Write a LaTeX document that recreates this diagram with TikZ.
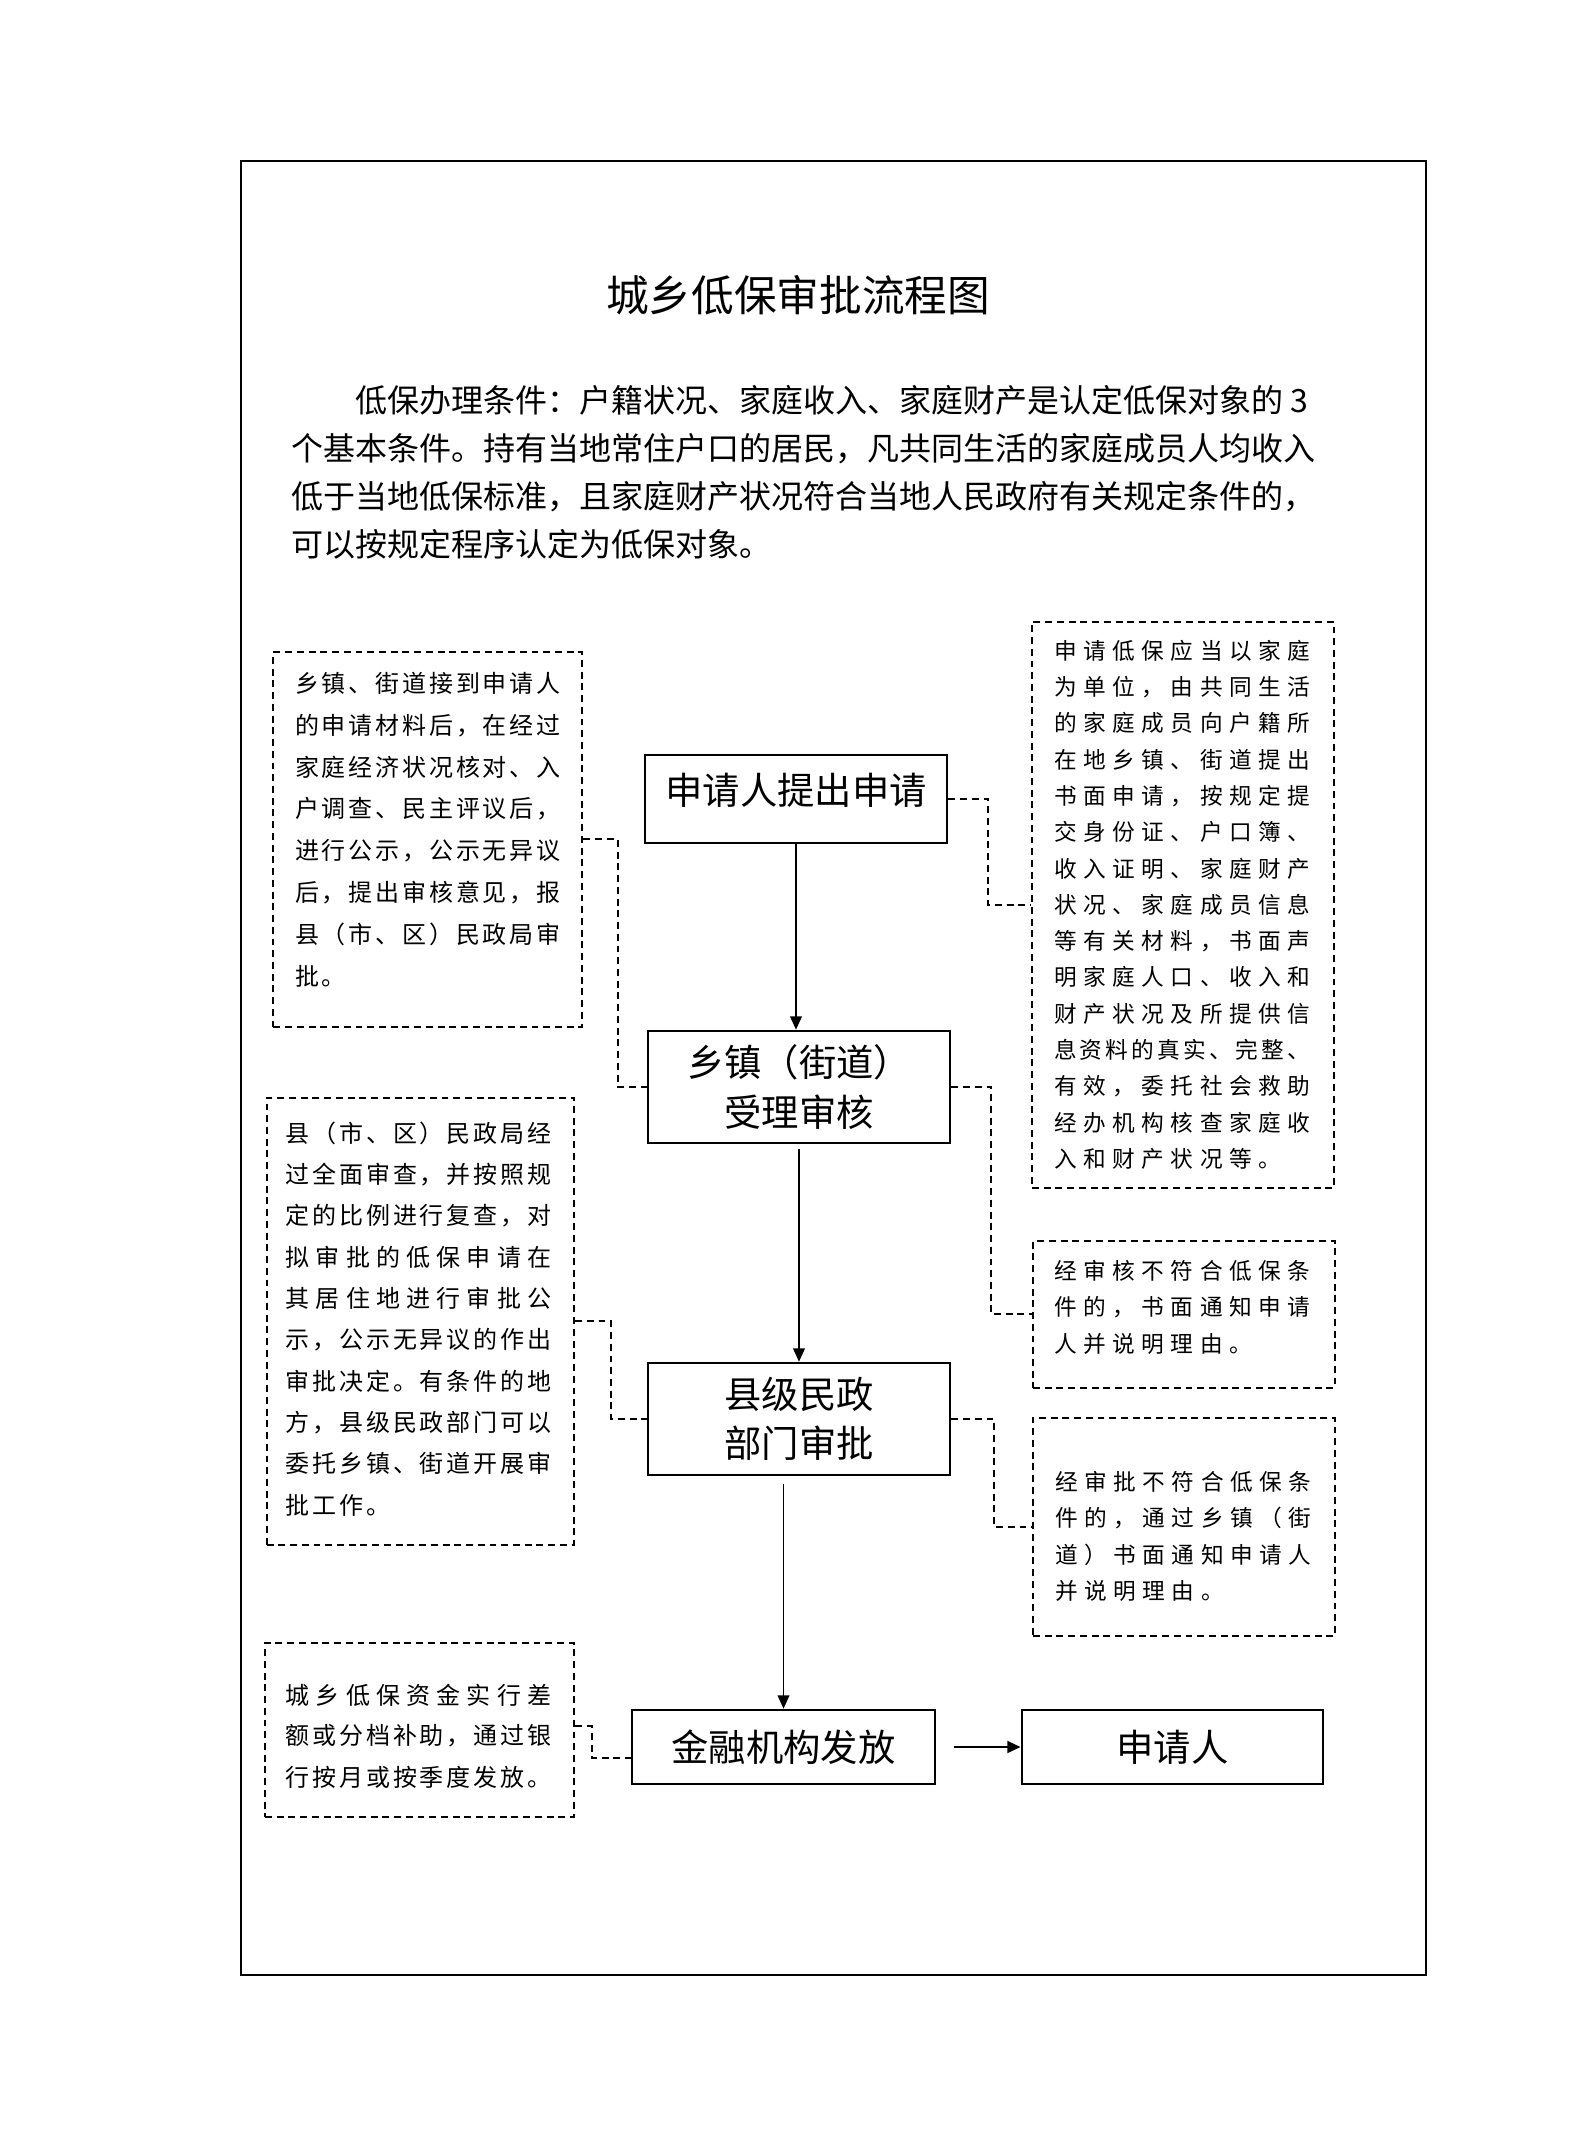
\documentclass[tikz,border=0pt]{standalone}
\usepackage{fontspec}
\setmainfont{Noto Sans CJK SC}
\usetikzlibrary{arrows.meta}
\newlength\gp
\newlength\sw
\makeatletter
\def\spr#1{\hbox to \sw{\spr@a#1\relax}}
\def\spr@a#1{#1\spr@b}
\def\spr@b#1{\ifx\relax#1\else\hfil#1\expandafter\spr@b\fi}
\def\grd#1{\hbox{\grd@a#1\relax}}
\def\grd@a#1{\ifx\relax#1\else\makebox[\gp][l]{#1}\expandafter\grd@a\fi}
\def\sprx#1{\expandafter\spr\expandafter{#1}}
\makeatother
\tikzset{
  ln/.style={anchor=west, inner sep=0pt, outer sep=0pt},
  Ltxt/.style={ln, font=\fontsize{9pt}{10pt}\selectfont\setlength\gp{10.07pt}\setlength\sw{99.6pt}},
  Rtxt/.style={ln, font=\fontsize{8.5pt}{10pt}\selectfont\setlength\gp{10.96pt}\setlength\sw{96.2pt}},
  ptxt/.style={ln, font=\fontsize{12pt}{14pt}\selectfont},
  mainbox/.style={draw, line width=1pt, inner sep=0pt, align=center, font=\fontsize{14pt}{18.4pt}\selectfont},
  dbox/.style={draw, line width=0.75pt, inner sep=0pt, dash pattern=on 2.6pt off 1.8pt},
  dconn/.style={line width=0.75pt, dash pattern=on 2.6pt off 1.8pt},
  arr/.style={line width=0.6pt, -{Triangle[length=5pt,width=4.4pt]}}
}
\begin{document}
\begin{tikzpicture}[x=0.375pt, y=-0.375pt]
\path[use as bounding box, fill=white] (0,0) rectangle (1587,2144);
% outer frame
\node[draw, line width=0.8pt, inner sep=0pt, minimum width=444.4pt, minimum height=680.2pt] (frame) at (833.2,1068.3) {};
% title
\node[inner sep=0pt, font=\fontsize{16pt}{20pt}\selectfont] (title) at (798.3,295.3) {城乡低保审批流程图};
% paragraph
\node[ptxt] (p1) at (355,400.5) {低保办理条件：户籍状况、家庭收入、家庭财产是认定低保对象的 3};
\node[ptxt] (p2) at (291,448.3) {个基本条件。持有当地常住户口的居民，凡共同生活的家庭成员人均收入};
\node[ptxt] (p3) at (291,496.2) {低于当地低保标准，且家庭财产状况符合当地人民政府有关规定条件的，};
\node[ptxt] (p4) at (291,544) {可以按规定程序认定为低保对象。};
% main boxes
\node[mainbox, minimum width=113.25pt, minimum height=33pt] (b1) at (796,799) {};
\node[inner sep=0pt, font=\fontsize{14pt}{18.4pt}\selectfont] (t1) at (796,790) {申请人提出申请};
\node[mainbox, minimum width=113.25pt, minimum height=42pt] (b2) at (799,1087) {乡镇（街道）\\受理审核};
\node[mainbox, minimum width=113.25pt, minimum height=42pt] (b3) at (799,1419) {县级民政\\部门审批};
\node[mainbox, minimum width=113.6pt, minimum height=27.75pt] (b4) at (783.5,1747) {金融机构发放};
\node[mainbox, minimum width=112.9pt, minimum height=27.75pt] (b5) at (1172.5,1747) {申请人};
% dashed boxes
\node[dbox, minimum width=115.9pt, minimum height=140.4pt] (L1) at (427.9,839.3) {};
\node[dbox, minimum width=113.25pt, minimum height=212.25pt] (R1) at (1183,905) {};
\node[dbox, minimum width=113.25pt, minimum height=54.9pt] (R2) at (1184,1314.3) {};
\node[dbox, minimum width=113.25pt, minimum height=81.9pt] (R3) at (1184,1526.8) {};
\node[dbox, minimum width=115.3pt, minimum height=167.6pt] (L2) at (420.3,1321.1) {};
\node[dbox, minimum width=115.9pt, minimum height=65.1pt] (L3) at (419.5,1729.8) {};
% L1 text
\foreach \lineT [count=\i] in {乡镇、街道接到申请人,
  的申请材料后，在经过,
  家庭经济状况核对、入,
  户调查、民主评议后，,
  进行公示，公示无异议,
  后，提出审核意见，报,
  县（市、区）民政局审}
  {\node[Ltxt] (L1-\i) at (295,{683.5+41.8*(\i-1)}) {\sprx{\lineT}};}
\node[Ltxt] (L1-8) at (295,{683.5+41.8*7}) {\grd{批。}};
% L2 text
\foreach \lineT [count=\i] in {县（市、区）民政局经,
  过全面审查，并按照规,
  定的比例进行复查，对,
  拟审批的低保申请在,
  其居住地进行审批公,
  示，公示无异议的作出,
  审批决定。有条件的地,
  方，县级民政部门可以,
  委托乡镇、街道开展审}
  {\node[Ltxt] (L2-\i) at (285.7,{1133.2+41.3*(\i-1)}) {\sprx{\lineT}};}
\node[Ltxt] (L2-10) at (285.7,{1133.2+41.3*9}) {\grd{批工作。}};
% L3 text
\foreach \lineT [count=\i] in {城乡低保资金实行差,
  额或分档补助，通过银,
  行按月或按季度发放。}
  {\node[Ltxt] (L3-\i) at (285.7,{1695+41*(\i-1)}) {\sprx{\lineT}};}
% R1 text
\foreach \lineT [count=\i] in {申请低保应当以家庭,
  为单位，由共同生活,
  的家庭成员向户籍所,
  在地乡镇、街道提出,
  书面申请，按规定提,
  交身份证、户口簿、,
  收入证明、家庭财产,
  状况、家庭成员信息,
  等有关材料，书面声,
  明家庭人口、收入和,
  财产状况及所提供信,
  息资料的真实、完整、,
  有效，委托社会救助,
  经办机构核查家庭收}
  {\node[Rtxt] (R1-\i) at (1054,{650.6+36.3*(\i-1)}) {\sprx{\lineT}};}
\node[Rtxt] (R1-15) at (1054,{650.6+36.3*14}) {\grd{入和财产状况等。}};
% R2 text
\foreach \lineT [count=\i] in {经审核不符合低保条,
  件的，书面通知申请}
  {\node[Rtxt] (R2-\i) at (1054,{1271+36.5*(\i-1)}) {\sprx{\lineT}};}
\node[Rtxt] (R2-3) at (1054,{1271+36.5*2}) {\grd{人并说明理由。}};
% R3 text
\foreach \lineT [count=\i] in {经审批不符合低保条,
  件的，通过乡镇（街,
  道）书面通知申请人}
  {\node[Rtxt] (R3-\i) at (1055,{1482+36.4*(\i-1)}) {\sprx{\lineT}};}
\node[Rtxt] (R3-4) at (1055,{1482+36.4*3}) {\grd{并说明理由。}};
% dashed connectors
\coordinate (k1) at (988,905);
\draw[dconn] (b1.east) -| (k1) -- (R1.west);
\coordinate (k2) at (618,1087);
\draw[dconn] (L1.east) -| (k2) -- (b2.west);
\coordinate (k3) at (991,1314.3);
\draw[dconn] (b2.east) -| (k3) -- (R2.west);
\coordinate (k4) at (611,1419);
\draw[dconn] (L2.east) -| (k4) -- (b3.west);
\coordinate (k5) at (994,1526.8);
\draw[dconn] (b3.east) -| (k5) -- (R3.west);
\coordinate (k6a) at (591.5,1726);
\coordinate (k6b) at (591.5,1758);
\draw[dconn] (k6a -| L3.east) -- (k6a) -- (k6b) -- (k6b -| b4.west);
% arrows
\draw[arr] (b1.south) -- (b1.south |- b2.north);
\path (b2.south) ++(0,5) coordinate (k7);
\draw[arr] (k7) -- (k7 |- b3.north);
\path (b3.south -| b4.north) ++(0,8) coordinate (k8);
\draw[arr] (k8) -- (b4.north);
\path (b4.east) ++(18,0) coordinate (k9);
\draw[arr, line width=1pt] (k9) -- (b5.west);
\end{tikzpicture}
\end{document}
